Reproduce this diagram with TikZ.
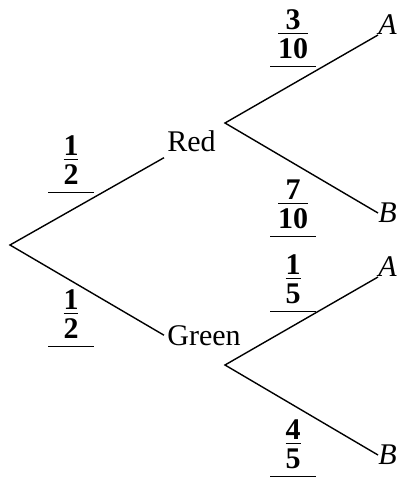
\documentclass[tikz,border=0pt]{standalone}
\usepackage{fontspec}
\setmainfont{Liberation Serif}
\usetikzlibrary{positioning}
\tikzset{branch/.style={line width=0.7pt},
  prob/.style={anchor=base,inner sep=0pt,minimum width=22.5pt}}
\newcommand{\pfrac}[2]{$\frac{\textbf{#1}}{\rule{0pt}{12pt}\textbf{#2}}$}

\begin{document}
\begin{tikzpicture}[x=0.5pt,y=-0.5pt,font=\fontsize{15}{18}\selectfont]
\useasboundingbox (0,0) rectangle (401,477);
\coordinate (root) at (10,245);
\node[anchor=base west,inner xsep=1.5pt,inner ysep=3pt] (red) at (164,151) {Red};
\node[anchor=base west,inner xsep=1.5pt,inner ysep=3pt] (green) at (164,345) {Green};
\coordinate (rfork) at (225,123);
\coordinate (gfork) at (225,365);
\node[anchor=south west,inner sep=0pt] (ra) at (378,35) {\itshape A};
\node[anchor=west,inner sep=0pt] (rb) at (378,213) {\itshape B};
\node[anchor=south west,inner sep=0pt] (ga) at (378,277) {\itshape A};
\node[anchor=west,inner sep=0pt] (gb) at (378,455) {\itshape B};
\draw[branch] (red.south west) -- (root) -- (green.west);
\draw[branch] (ra.south west) -- (rfork) -- (rb.west);
\draw[branch] (ga.south west) -- (gfork) -- (gb.west);
% probabilities with answer lines
\foreach \name/\x/\y/\num/\den in {pr/71/159/1/2,pg/71/313/1/2,pra/293/33/3/10,prb/293/203/7/10,pga/293/278/1/5,pgb/293/443/4/5}{
  \node[prob] (\name) at (\x,\y+7.5) {\pfrac{\num}{\den}};
  \draw[branch] ([yshift=-13pt]\name.base west) -- ([yshift=-13pt]\name.base east);
}
\end{tikzpicture}
\end{document}
